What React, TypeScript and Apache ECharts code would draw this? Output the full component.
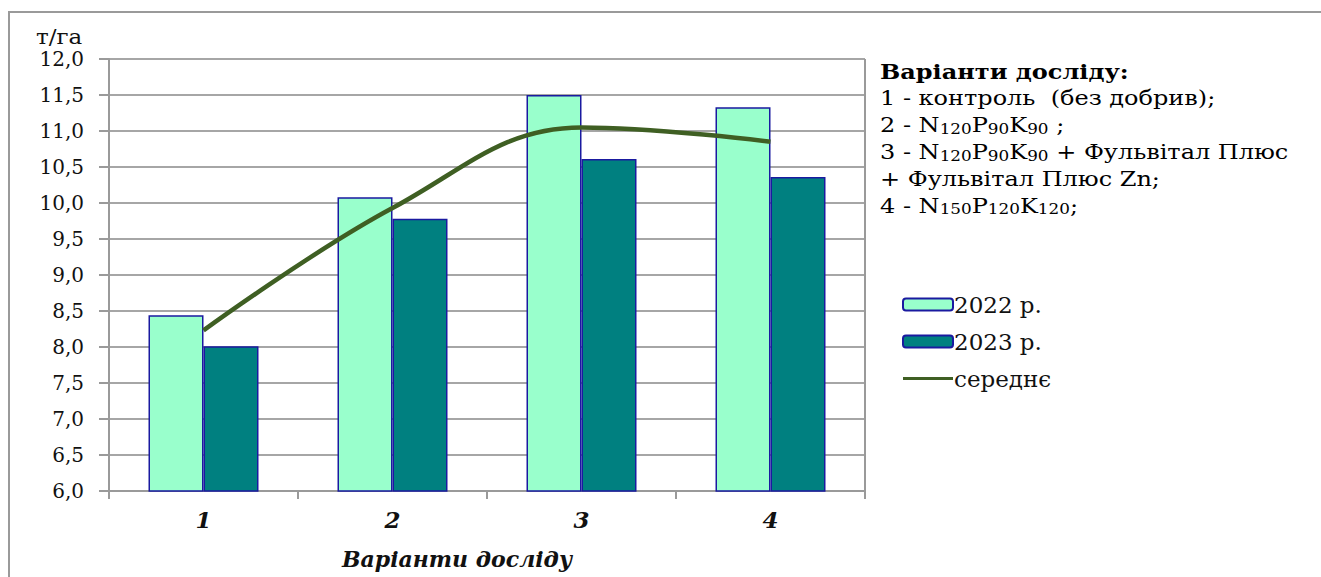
import React, { useEffect, useRef } from "react";
import * as echarts from "echarts";

const categories = ["1", "2", "3", "4"];
const values2022 = [8.44, 10.08, 11.5, 11.33];
const values2023 = [8.01, 9.78, 10.61, 10.36];
const valuesMean = [8.23, 9.93, 11.05, 10.85];
const yTicks = { min: 6, max: 12, interval: 0.5 };
const seriesNames = ["2022 р.", "2023 р.", "середнє"];

const FONT = "DejaVu Serif";

export default function App() {
  const ref = useRef<HTMLDivElement>(null);
  useEffect(() => {
    if (!ref.current) return;
    const chart = echarts.init(ref.current, undefined, { renderer: "svg" });
    const LH = 26.8;
    const norm = { fontSize: 20, fontFamily: FONT, color: "#111", lineHeight: LH };
    const sub = { fontSize: 14, padding: [9, 0, 0, 0], fontFamily: FONT, color: "#111", lineHeight: LH };
    chart.setOption({
      animation: false,
      backgroundColor: "#fff",
      textStyle: { fontFamily: FONT },
      grid: { left: 109, right: 456, top: 59, bottom: 86 },
      xAxis: {
        type: "category",
        data: categories,
        axisLine: { lineStyle: { color: "#9a9a9a", width: 2 } },
        axisTick: { show: true, length: 8, lineStyle: { color: "#9a9a9a", width: 2 } },
        axisLabel: {
          fontFamily: FONT,
          fontSize: 23,
          fontWeight: "bold",
          fontStyle: "italic",
          color: "#111",
          margin: 17,
        },
        name: "Варіанти досліду",
        nameLocation: "middle",
        nameGap: 57,
        nameTextStyle: {
          fontFamily: FONT,
          fontSize: 22,
          fontWeight: "bold",
          fontStyle: "italic",
          color: "#111",
          padding: [0, 60, 0, 0],
        },
      },
      yAxis: {
        type: "value",
        min: yTicks.min,
        max: yTicks.max,
        interval: yTicks.interval,
        axisLine: { show: true, lineStyle: { color: "#9a9a9a", width: 2 } },
        axisTick: { show: true, length: 10, lineStyle: { color: "#9a9a9a", width: 2 } },
        splitLine: { show: true, lineStyle: { color: "#a6a6a6", width: 2 } },
        axisLabel: {
          fontFamily: FONT,
          fontSize: 20,
          color: "#111",
          margin: 25,
          formatter: (v: number) => v.toFixed(1).replace(".", ","),
        },
      },
      legend: {
        orient: "vertical",
        left: 897,
        top: 288,
        itemWidth: 50,
        itemHeight: 12,
        itemGap: 14,
        textStyle: { fontFamily: FONT, fontSize: 23, color: "#111", padding: [0, 0, 0, -4] },
        data: [
          { name: seriesNames[0] },
          { name: seriesNames[1] },
          { name: seriesNames[2], icon: "path://M0,0M0,4.5H50V7.5H0ZM50,12" },
        ],
      },
      series: [
        {
          name: seriesNames[0],
          type: "bar",
          data: values2022,
          barWidth: 55,
          barGap: "0%",
          itemStyle: { color: "#99FFCC", borderColor: "#1a1aa0", borderWidth: 1.5 },
        },
        {
          name: seriesNames[1],
          type: "bar",
          data: values2023,
          barWidth: 55,
          barGap: "0%",
          itemStyle: { color: "#008080", borderColor: "#1a1aa0", borderWidth: 1.5 },
        },
        {
          name: seriesNames[2],
          type: "line",
          data: valuesMean,
          smooth: 0.4,
          symbol: "none",
          lineStyle: { color: "#3f5f23", width: 4.5 },
          itemStyle: { color: "#3f5f23" },
          z: 5,
        },
      ],
      graphic: [
        {
          type: "rect",
          shape: { x: 9, y: 12, width: 1330, height: 600 },
          style: { fill: "none", stroke: "#9a9a9a", lineWidth: 2 },
          silent: true,
          z: -10,
        },
        {
          type: "line",
          shape: { x1: 865, y1: 59, x2: 865, y2: 491 },
          style: { stroke: "#9a9a9a", lineWidth: 2 },
          z: 1,
        },
        {
          type: "text",
          x: 36,
          y: 27,
          scaleX: 1.15,
          style: { text: "т/га", fontSize: 20, fontFamily: FONT, fill: "#111" },
        },
        {
          type: "text",
          x: 880,
          y: 58,
          scaleX: 1.2,
          style: {
            text: [
              "{b|Варіанти досліду:}",
              "{n|1 - контроль  (без добрив);}",
              "{n|2 - N}{s|120}{n|P}{s|90}{n|K}{s|90}{n| ;}",
              "{n|3 - N}{s|120}{n|P}{s|90}{n|K}{s|90}{n| + Фульвітал Плюс}",
              "{n|+ Фульвітал Плюс Zn;}",
              "{n|4 - N}{s|150}{n|P}{s|120}{n|K}{s|120}{n|;}",
            ].join("\n"),
            lineHeight: LH,
            rich: {
              b: { ...norm, fontWeight: "bold" },
              n: norm,
              s: sub,
            },
          },
        },
      ],
    });
    return () => chart.dispose();
  }, []);
  return (
    <div
      ref={ref}
      style={{ position: "fixed", left: 0, top: 0, width: 1321, height: 577, background: "#fff" }}
    />
  );
}
